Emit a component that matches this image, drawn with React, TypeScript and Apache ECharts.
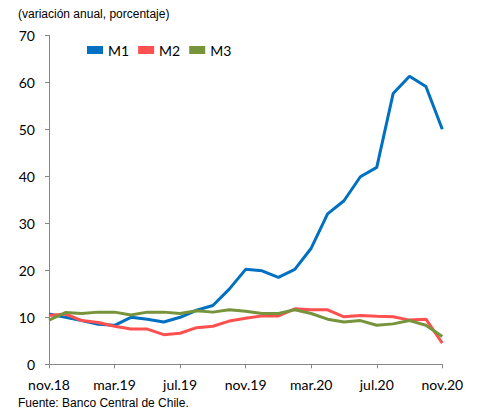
import React, { useEffect, useRef } from "react";
import * as echarts from "echarts";

const months = [
  "nov.18", "dic.18", "ene.19", "feb.19", "mar.19", "abr.19", "may.19", "jun.19", "jul.19",
  "ago.19", "sep.19", "oct.19", "nov.19", "dic.19", "ene.20", "feb.20", "mar.20", "abr.20",
  "may.20", "jun.20", "jul.20", "ago.20", "sep.20", "oct.20", "nov.20",
];

const m1 = [10.7, 10.0, 9.3, 8.5, 8.3, 10.0, 9.6, 9.0, 10.0, 11.5, 12.5, 16.0, 20.2, 19.9, 18.5, 20.2, 24.7, 32.0, 34.8, 39.9, 41.9, 57.6, 61.3, 59.1, 50.0];
const m2 = [10.4, 10.7, 9.3, 8.9, 8.1, 7.5, 7.5, 6.3, 6.6, 7.8, 8.1, 9.2, 9.8, 10.3, 10.3, 11.8, 11.6, 11.6, 10.1, 10.4, 10.2, 10.1, 9.4, 9.6, 4.5];
const m3 = [9.4, 11.0, 10.8, 11.1, 11.1, 10.5, 11.1, 11.1, 10.8, 11.4, 11.1, 11.6, 11.3, 10.8, 10.8, 11.6, 10.8, 9.6, 9.0, 9.3, 8.3, 8.6, 9.3, 8.3, 5.9];

const seriesNames = ["M1", "M2", "M3"];
const colors = ["#0070C0", "#FF5050", "#77933C"];

export default function App() {
  const ref = useRef<HTMLDivElement>(null);
  useEffect(() => {
    if (!ref.current) return;
    const chart = echarts.init(ref.current, null, { renderer: "svg" });
    const data = [m1, m2, m3];
    chart.setOption({
      animation: false,
      backgroundColor: "#ffffff",
      graphic: [
        {
          type: "text",
          left: 18,
          top: 8,
          style: {
            text: "(variación anual, porcentaje)",
            font: "12px 'Liberation Sans', Arial, sans-serif",
            fill: "#000",
          },
        },
        {
          type: "text",
          left: 18,
          top: 397,
          style: {
            text: "Fuente: Banco Central de Chile.",
            font: "12px 'Liberation Sans', Arial, sans-serif",
            fill: "#000",
          },
        },
      ],
      legend: {
        left: 87,
        top: 43,
        padding: 0,
        icon: "rect",
        itemWidth: 16,
        itemHeight: 8,
        itemGap: 9,
        textStyle: { fontFamily: "Lato", fontSize: 14, color: "#000" },
        data: seriesNames,
      },
      grid: { left: 49, top: 35.3, width: 393.3, height: 329, containLabel: false },
      xAxis: {
        type: "category",
        data: months,
        boundaryGap: false,
        axisLine: { lineStyle: { color: "#868686", width: 1 } },
        axisTick: { interval: 3, length: 4, lineStyle: { color: "#868686" } },
        axisLabel: { interval: 3, margin: 13, fontFamily: "Lato", fontSize: 14, color: "#000" },
        splitLine: { show: false },
      },
      yAxis: {
        type: "value",
        min: 0,
        max: 70,
        interval: 10,
        axisLine: { show: true, lineStyle: { color: "#868686", width: 1 } },
        axisTick: { show: true, length: 4, lineStyle: { color: "#868686" } },
        axisLabel: { margin: 14, fontFamily: "Lato", fontSize: 14, color: "#000" },
        splitLine: { show: false },
      },
      series: seriesNames.map((name, i) => ({
        name,
        type: "line",
        data: data[i],
        symbol: "none",
        lineStyle: { width: 3, color: colors[i] },
        itemStyle: { color: colors[i] },
      })),
    });
    return () => chart.dispose();
  }, []);
  return (
    <div
      ref={ref}
      style={{ position: "fixed", left: 0, top: 0, width: 479, height: 411 }}
    />
  );
}
